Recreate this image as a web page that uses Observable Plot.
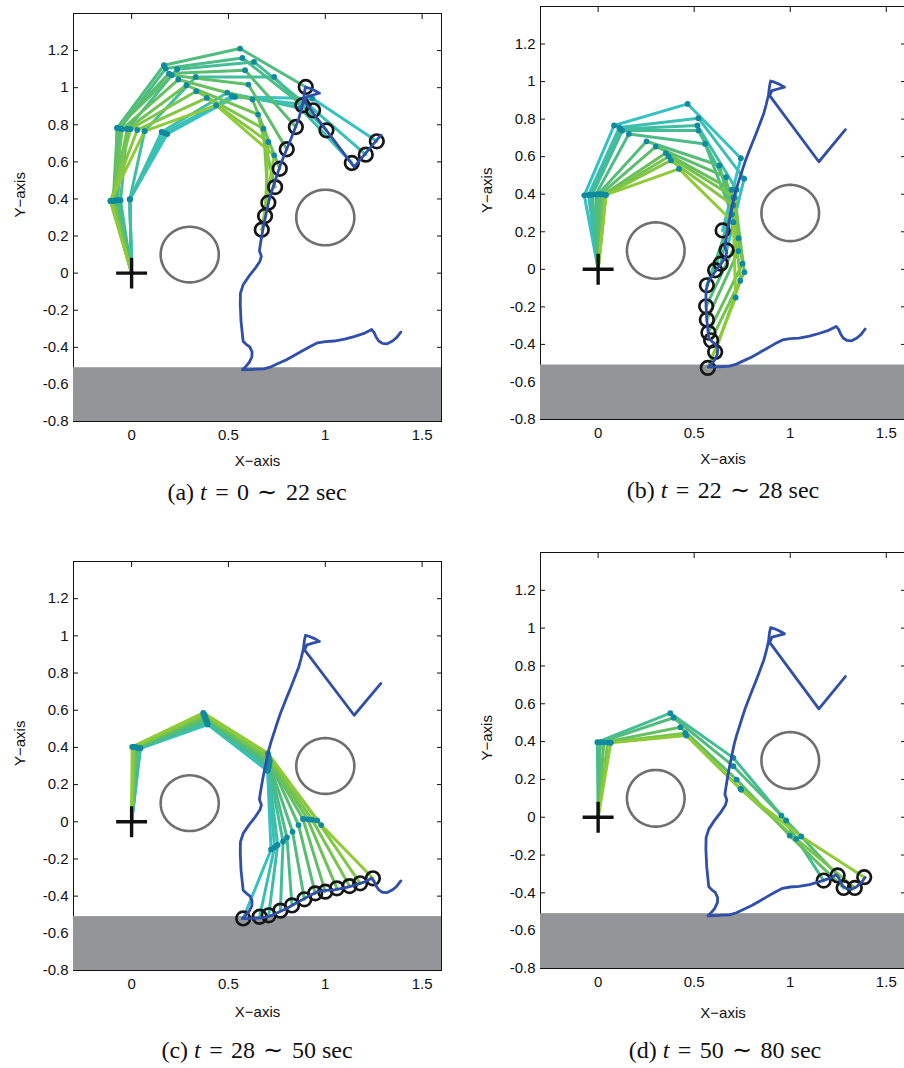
<!DOCTYPE html>
<html>
<head>
<meta charset="utf-8">
<script src="https://cdn.jsdelivr.net/npm/d3@7"></script>
<script src="https://cdn.jsdelivr.net/npm/@observablehq/plot@0.6"></script>
<style>
  body { margin: 0; background: #fff; }
  #page { position: relative; width: 904px; height: 1068px; overflow: hidden; background: #fff; }
  .panel { position: absolute; }
  .panel svg { max-width: none !important; display: block; }
  .caption {
    position: absolute; white-space: nowrap; transform: translateX(-50%);
    font-family: "Liberation Serif", "Times New Roman", serif; font-size: 24px; color: #111; line-height: 26px;
  }
  .caption .op { padding: 0 0.1em; }
</style>
</head>
<body>
<div id="page"></div>
<script>
// Axis ticks and limits
const xTicks = [0, 0.5, 1, 1.5];
const xTickLabels = ["0", "0.5", "1", "1.5"];
const yTicks = [-0.8, -0.6, -0.4, -0.2, 0, 0.2, 0.4, 0.6, 0.8, 1, 1.2];
const yTickLabels = ["-0.8", "-0.6", "-0.4", "-0.2", "0", "0.2", "0.4", "0.6", "0.8", "1", "1.2"];
const xDomain = [-0.3, 1.6];
const yDomain = [-0.8, 1.4];
const axisTitles = ["X−axis", "Y−axis"];

// Scene: ground surface and circular obstacles
const groundTop = -0.51;
const obstacles = [
  {cx: 0.3, cy: 0.1, r: 0.15},
  {cx: 1.0, cy: 0.3, r: 0.15}
];

// Reference trajectory of the end effector (x, y)
const targetPath = [
  [1.287, 0.744], [1.149, 0.573], [0.893, 0.925],
  [0.905, 0.952], [0.94, 0.962], [0.97, 0.970], [0.945, 0.985], [0.915, 0.998], [0.898, 1.003], [0.892, 0.975], [0.887, 0.930],
  [0.875, 0.878], [0.863, 0.833], [0.850, 0.797], [0.837, 0.762], [0.820, 0.717], [0.802, 0.672], [0.785, 0.627],
  [0.768, 0.582], [0.751, 0.530], [0.734, 0.475], [0.720, 0.430], [0.708, 0.385], [0.697, 0.332], [0.686, 0.278],
  [0.677, 0.230], [0.670, 0.188], [0.664, 0.150], [0.660, 0.120], [0.667, 0.100], [0.670, 0.090], [0.662, 0.063],
  [0.639, 0.027], [0.605, -0.018], [0.576, -0.063], [0.562, -0.108], [0.561, -0.170], [0.565, -0.260],
  [0.572, -0.330], [0.576, -0.368], [0.593, -0.385], [0.610, -0.398], [0.622, -0.425], [0.621, -0.452],
  [0.607, -0.482], [0.590, -0.503], [0.574, -0.518], [0.572, -0.521],
  [0.610, -0.520], [0.650, -0.518], [0.684, -0.516], [0.720, -0.505], [0.753, -0.489], [0.800, -0.467],
  [0.839, -0.444], [0.880, -0.420], [0.920, -0.397], [0.960, -0.376], [1.000, -0.369], [1.046, -0.366],
  [1.100, -0.356], [1.149, -0.342], [1.200, -0.325], [1.239, -0.304], [1.252, -0.320], [1.263, -0.346],
  [1.276, -0.366], [1.295, -0.379], [1.320, -0.381], [1.347, -0.366], [1.368, -0.348], [1.390, -0.318]
];

// Arm postures: joints 1-4 and tip for each sampled instant (base fixed at the origin)
const armA = [
  [[-0.009, 0.398], [0.184, 0.750], [0.534, 0.950], [0.934, 0.941], [1.266, 0.711]],
  [[-0.009, 0.398], [0.170, 0.755], [0.518, 0.955], [0.916, 0.905], [1.209, 0.639]],
  [[-0.009, 0.398], [0.155, 0.761], [0.494, 0.973], [0.870, 0.890], [1.137, 0.594]],
  [[-0.009, 0.398], [0.067, 0.766], [0.331, 1.058], [0.736, 1.058], [1.006, 0.770]],
  [[-0.057, 0.393], [-0.022, 0.777], [0.235, 1.100], [0.632, 1.139], [0.937, 0.878]],
  [[-0.070, 0.393], [-0.060, 0.780], [0.176, 1.103], [0.572, 1.160], [0.882, 0.905]],
  [[-0.083, 0.392], [-0.074, 0.783], [0.167, 1.121], [0.560, 1.211], [0.899, 1.004]],
  [[-0.083, 0.392], [-0.074, 0.783], [0.193, 1.076], [0.586, 1.094], [0.848, 0.788]],
  [[-0.095, 0.390], [-0.074, 0.783], [0.207, 1.067], [0.603, 1.017], [0.801, 0.668]],
  [[-0.095, 0.390], [-0.048, 0.777], [0.241, 1.044], [0.624, 0.936], [0.765, 0.563]],
  [[-0.100, 0.389], [-0.022, 0.777], [0.283, 1.013], [0.653, 0.855], [0.741, 0.464]],
  [[-0.105, 0.389], [-0.005, 0.777], [0.334, 0.981], [0.681, 0.779], [0.706, 0.380]],
  [[-0.109, 0.389], [0.029, 0.772], [0.388, 0.945], [0.706, 0.707], [0.689, 0.308]],
  [[-0.109, 0.389], [0.067, 0.766], [0.437, 0.905], [0.736, 0.635], [0.672, 0.234]]
];
const armB = [
  [[-0.072, 0.394], [0.083, 0.766], [0.466, 0.881], [0.743, 0.592], [0.648, 0.207]],
  [[-0.050, 0.396], [0.110, 0.755], [0.522, 0.805], [0.760, 0.483], [0.669, 0.101]],
  [[-0.040, 0.397], [0.117, 0.748], [0.517, 0.766], [0.721, 0.424], [0.638, 0.030]],
  [[-0.030, 0.398], [0.126, 0.739], [0.522, 0.739], [0.705, 0.383], [0.609, -0.005]],
  [[-0.012, 0.398], [0.160, 0.721], [0.557, 0.668], [0.697, 0.293], [0.566, -0.085]],
  [[0.000, 0.400], [0.252, 0.682], [0.631, 0.553], [0.731, 0.166], [0.562, -0.197]],
  [[0.014, 0.400], [0.300, 0.654], [0.666, 0.491], [0.730, 0.097], [0.566, -0.268]],
  [[0.030, 0.398], [0.352, 0.619], [0.695, 0.424], [0.752, 0.030], [0.574, -0.337]],
  [[0.040, 0.397], [0.367, 0.601], [0.712, 0.382], [0.761, -0.015], [0.588, -0.378]],
  [[0.040, 0.397], [0.379, 0.580], [0.704, 0.340], [0.740, -0.061], [0.609, -0.440]],
  [[0.040, 0.397], [0.421, 0.535], [0.704, 0.251], [0.716, -0.150], [0.571, -0.525]]
];
const armC = [
  [[0.046, 0.395], [0.393, 0.523], [0.702, 0.274], [0.720, -0.149], [0.576, -0.520]],
  [[0.044, 0.396], [0.392, 0.530], [0.704, 0.281], [0.738, -0.137], [0.661, -0.511]],
  [[0.039, 0.396], [0.389, 0.531], [0.706, 0.293], [0.754, -0.125], [0.708, -0.503]],
  [[0.037, 0.397], [0.388, 0.541], [0.708, 0.296], [0.782, -0.106], [0.768, -0.478]],
  [[0.031, 0.398], [0.385, 0.544], [0.710, 0.309], [0.802, -0.084], [0.828, -0.450]],
  [[0.029, 0.399], [0.384, 0.553], [0.711, 0.312], [0.831, -0.054], [0.892, -0.417]],
  [[0.023, 0.400], [0.381, 0.556], [0.713, 0.325], [0.862, -0.018], [0.948, -0.385]],
  [[0.021, 0.401], [0.380, 0.565], [0.711, 0.329], [0.885, 0.015], [1.000, -0.376]],
  [[0.015, 0.401], [0.377, 0.567], [0.710, 0.340], [0.909, 0.013], [1.060, -0.358]],
  [[0.012, 0.402], [0.376, 0.576], [0.707, 0.345], [0.932, 0.011], [1.125, -0.346]],
  [[0.007, 0.402], [0.372, 0.579], [0.706, 0.359], [0.958, 0.007], [1.180, -0.331]],
  [[0.003, 0.403], [0.370, 0.586], [0.704, 0.368], [0.979, -0.018], [1.246, -0.304]]
];
const armD = [
  [[-0.004, 0.397], [0.376, 0.550], [0.704, 0.314], [0.954, 0.009], [1.174, -0.335]],
  [[0.012, 0.397], [0.393, 0.526], [0.704, 0.270], [0.979, -0.017], [1.247, -0.308]],
  [[0.030, 0.396], [0.428, 0.476], [0.721, 0.199], [0.997, -0.097], [1.278, -0.374]],
  [[0.050, 0.395], [0.454, 0.444], [0.741, 0.150], [1.031, -0.114], [1.336, -0.374]],
  [[0.066, 0.394], [0.459, 0.432], [0.745, 0.145], [1.057, -0.102], [1.385, -0.317]]
];

// Sub-figure captions: letter and time window in seconds
const captionLetters = ["a", "b", "c", "d"];
const timeWindows = [[0, 22], [22, 28], [28, 50], [50, 80]];

// Link colours run from cyan (early) through green to lime (late)
const linkRamp = d3.interpolateRgbBasis(["#36c1c3", "#4cb874", "#8fca38"]);

const FONT = '"Liberation Sans", Arial, Helvetica, sans-serif';

// Placement of each sub-figure on the page; ramp = portion of the colour ramp used
const layout = [
  {arm: armA, ramp: [0, 1],    left: 0,   top: 0,   width: 452, height: 480, mt: 13, mb: 59, ml: 73, mr: 11, xt: 44, cx: 257, cy: 492},
  {arm: armB, ramp: [0, 1],    left: 452, top: 0,   width: 460, height: 480, mt: 6,  mb: 61, ml: 88, mr: 7,  xt: 44, cx: 723, cy: 490},
  {arm: armC, ramp: [0, 1],    left: 0,   top: 540, width: 452, height: 500, mt: 21, mb: 70, ml: 73, mr: 11, xt: 46, cx: 257, cy: 1050},
  {arm: armD, ramp: [0.3, 1],  left: 452, top: 540, width: 460, height: 500, mt: 12, mb: 72, ml: 88, mr: 7,  xt: 49, cx: 725, cy: 1050}
];

function obstacleOutline(o) {
  return d3.range(0, 361, 4).map(a => [o.cx + o.r * Math.cos(a * Math.PI / 180), o.cy + o.r * Math.sin(a * Math.PI / 180)]);
}

function panel(spec) {
  const n = spec.arm.length;
  const [r0, r1] = spec.ramp;
  const links = [];
  const joints = [];
  const tips = [];
  spec.arm.forEach((frame, i) => {
    const color = linkRamp(r0 + (r1 - r0) * (n > 1 ? i / (n - 1) : 0));
    [[0, 0], ...frame].forEach(([x, y], k) => {
      links.push({frame: i, x, y, color});
      if (k >= 1 && k <= 4) joints.push({x, y});
      if (k === 5) tips.push({x, y});
    });
  });
  const outlines = obstacles.map((o, i) => obstacleOutline(o).map(([x, y]) => ({id: i, x, y})));

  return Plot.plot({
    width: spec.width,
    height: spec.height,
    marginTop: spec.mt,
    marginBottom: spec.mb,
    marginLeft: spec.ml,
    marginRight: spec.mr,
    style: {fontFamily: FONT, fontSize: "15px", color: "#111", background: "transparent", overflow: "visible", maxWidth: "none"},
    x: {domain: xDomain, axis: null, label: null},
    y: {domain: yDomain, axis: null, label: null},
    marks: [
      // inward ticks on all four sides, MATLAB style
      Plot.axisX(xTicks, {anchor: "top", tickSize: -5, fill: null, label: null}),
      Plot.axisY(yTicks, {anchor: "right", tickSize: -5, fill: null, label: null}),
      Plot.axisX(xTicks, {anchor: "bottom", tickSize: -5, tickPadding: 13, label: null,
        tickFormat: d => xTickLabels[xTicks.indexOf(d)]}),
      Plot.axisY(yTicks, {anchor: "left", tickSize: -5, tickPadding: 10, label: null,
        tickFormat: d => yTickLabels[yTicks.indexOf(d)]}),
      Plot.frame({stroke: "#111", strokeWidth: 1}),
      // ground
      Plot.rect([{x1: xDomain[0], x2: xDomain[1], y1: yDomain[0], y2: groundTop}],
        {x1: "x1", x2: "x2", y1: "y1", y2: "y2", fill: "#939598"}),
      // obstacles
      ...outlines.map(pts => Plot.line(pts, {x: "x", y: "y", stroke: "#6f6f6f", strokeWidth: 2.6})),
      // arm postures
      Plot.line(links, {x: "x", y: "y", z: "frame", stroke: "color", strokeWidth: 3, strokeLinejoin: "round"}),
      Plot.dot(joints, {x: "x", y: "y", r: 2.9, fill: "#0f8a9e", stroke: null}),
      Plot.dot(tips, {x: "x", y: "y", r: 6.8, stroke: "#161616", strokeWidth: 2.7, fill: "none"}),
      // reference trajectory
      Plot.line(targetPath, {x: d => d[0], y: d => d[1], stroke: "#2f4fa8", strokeWidth: 2.8, strokeLinejoin: "round"}),
      // base of the arm
      Plot.dot([[0, 0]], {x: d => d[0], y: d => d[1], symbol: "plus", r: 10, stroke: "#111", strokeWidth: 3.4}),
      // axis titles
      Plot.text([axisTitles[0]], {frameAnchor: "bottom", dy: spec.xt, text: d => d, fill: "#111"}),
      Plot.text([axisTitles[1]], {frameAnchor: "left", dx: -53, rotate: -90, text: d => d, fill: "#111"})
    ]
  });
}

const page = document.getElementById("page");
layout.forEach((spec, i) => {
  const holder = document.createElement("div");
  holder.className = "panel";
  holder.style.left = spec.left + "px";
  holder.style.top = spec.top + "px";
  holder.style.width = spec.width + "px";
  holder.style.height = spec.height + "px";
  holder.appendChild(panel(spec));
  page.appendChild(holder);

  const cap = document.createElement("div");
  cap.className = "caption";
  cap.style.left = spec.cx + "px";
  cap.style.top = (spec.cy - 13) + "px";
  const [t0, t1] = timeWindows[i];
  cap.innerHTML = `(${captionLetters[i]}) <i>t</i><span class="op"> = </span>${t0}<span class="op"> ∼ </span>${t1} sec`;
  page.appendChild(cap);
});
</script>
</body>
</html>
